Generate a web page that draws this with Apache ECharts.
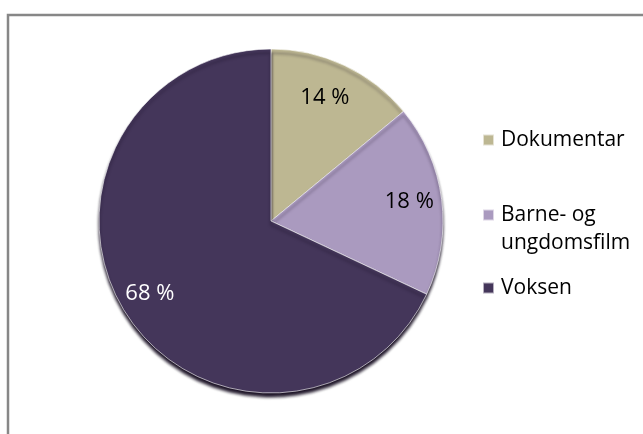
<!DOCTYPE html>
<html>
<head>
<meta charset="UTF-8">
<title>Filmtyper</title>
<script src="https://cdn.jsdelivr.net/npm/echarts@6/dist/echarts.min.js"></script>
<style>
  html, body { margin: 0; padding: 0; background: #fff; }
</style>
</head>
<body>
<div id="main" style="width: 643px;height:434px;"></div>
<script type="text/javascript">
// data
var categories = ['Dokumentar', 'Barne- og ungdomsfilm', 'Voksen'];
var values = [14, 18, 68];
var colors = ['#BDB792', '#AA9ABF', '#44365A'];
var labelColors = ['#000', '#000', '#fff'];
// push each label outward from the ECharts 'inside' spot (Excel best-fit look)
var labelOffsets = [[16, -43], [50, -8], [-46, 25]];

var myChart = echarts.init(document.getElementById('main'));

var pieData = [];
for (var i = 0; i < categories.length; i++) {
    pieData.push({
        name: categories[i],
        value: values[i],
        itemStyle: { color: colors[i] },
        label: { color: labelColors[i], offset: labelOffsets[i] }
    });
}

// one legend per entry so the two-line entry can keep its box on the first line
var legendTops = [126, 173, 274];
var legends = [];
for (var j = 0; j < categories.length; j++) {
    legends.push({
        data: [categories[j]],
        left: 482,
        top: legendTops[j],
        itemWidth: 11,
        itemHeight: 11,
        itemGap: 0,
        padding: 0,
        icon: 'rect',
        textStyle: { fontFamily: 'Open Sans', fontSize: 21, lineHeight: 28, color: '#000', padding: [0, 0, 0, 2] },
        formatter: function (name) {
            return name === 'Barne- og ungdomsfilm' ? ' \nBarne- og\nungdomsfilm' : name;
        }
    });
}

var option = {
    animation: false,
    graphic: [{
        type: 'rect',
        shape: { x: 8, y: 15, width: 700, height: 500 },
        style: { fill: 'none', stroke: '#878787', lineWidth: 2.5 },
        silent: true
    }],
    legend: legends,
    series: [{
        type: 'pie',
        center: [271, 221],
        radius: 172,
        startAngle: 90,
        clockwise: true,
        data: pieData,
        itemStyle: {
            borderColor: 'rgba(255,255,255,0.6)',
            borderWidth: 1,
            shadowColor: 'rgba(18,8,28,0.95)',
            shadowBlur: 3,
            shadowOffsetY: 4
        },
        label: {
            show: true,
            position: 'inside',
            formatter: '{c} %',
            fontFamily: 'Open Sans',
            fontSize: 22
        },
        labelLine: { show: false },
        emphasis: { scale: false }
    }]
};

myChart.setOption(option);
</script>
</body>
</html>
